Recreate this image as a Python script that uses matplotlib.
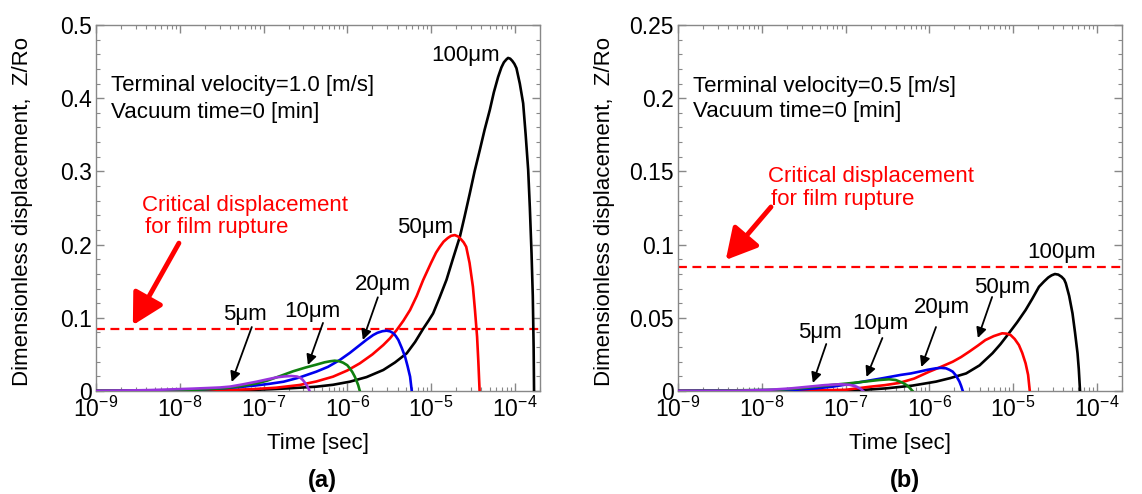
import numpy as np
import matplotlib
matplotlib.use("Agg")
import matplotlib.pyplot as plt
from matplotlib.ticker import MultipleLocator, FuncFormatter, LogLocator

plt.rcParams['font.family'] = ['Liberation Sans', 'DejaVu Sans']

# ---- data: log10(time [s]) and Z/Ro ----
# (a) terminal velocity 1.0 m/s
a100_logt = [-9, -8, -7.5, -7.16, -6.9, -6.67, -6.37, -6.17, -5.97, -5.77, -5.57, -5.43, -5.29,
             -5.19, -5.09, -5.03, -4.975, -4.9, -4.815, -4.74, -4.655, -4.6, -4.537, -4.48, -4.418,
             -4.36, -4.298, -4.25, -4.199, -4.16, -4.13, -4.1, -4.08, -4.055, -4.03, -4.005, -3.98,
             -3.94, -3.90, -3.87, -3.84, -3.82, -3.80, -3.785, -3.775, -3.77]
a100_z = [0, 0.0002, 0.0006, 0.0014, 0.0025, 0.0038, 0.0059, 0.0085, 0.0127, 0.019, 0.0287, 0.039,
          0.0515, 0.067, 0.0857, 0.096, 0.106, 0.127, 0.152, 0.18, 0.211, 0.238, 0.270, 0.30, 0.329,
          0.357, 0.384, 0.408, 0.429, 0.442, 0.449, 0.453, 0.455, 0.454, 0.451, 0.447, 0.441,
          0.42, 0.393, 0.35, 0.302, 0.25, 0.188, 0.13, 0.06, 0]
a50_logt = [-9, -8, -7.5, -7.16, -6.85, -6.57, -6.37, -6.17, -6.0, -5.85, -5.7, -5.57, -5.49,
            -5.41, -5.33, -5.25, -5.17, -5.094, -5.0, -4.94, -4.895, -4.85, -4.80, -4.76, -4.716,
            -4.675, -4.64, -4.61, -4.58, -4.54, -4.50, -4.475, -4.45, -4.435, -4.42]
a50_z = [0, 0.0004, 0.0012, 0.0023, 0.0045, 0.0082, 0.013, 0.0196, 0.028, 0.0378, 0.050, 0.0628,
         0.072, 0.0833, 0.096, 0.1107, 0.13, 0.1516, 0.175, 0.189, 0.197, 0.204, 0.209, 0.212, 0.213,
         0.211, 0.207, 0.203, 0.197, 0.175, 0.1425, 0.11, 0.074, 0.04, 0]
a20_logt = [-9, -8.5, -8, -7.75, -7.48, -7.28, -7.1, -6.93, -6.76, -6.57, -6.37, -6.23, -6.09,
            -5.97, -5.85, -5.77, -5.69, -5.64, -5.58, -5.53, -5.49, -5.45, -5.42, -5.39, -5.35,
            -5.31, -5.28, -5.25, -5.23]
a20_z = [0, 0.0003, 0.0008, 0.002, 0.0037, 0.0055, 0.0075, 0.0098, 0.0127, 0.0185, 0.0264, 0.033,
         0.0423, 0.052, 0.0628, 0.070, 0.0765, 0.0795, 0.0817, 0.0824, 0.0815, 0.079, 0.075, 0.0697,
         0.059, 0.0469, 0.034, 0.0196, 0]
a10_logt = [-9, -8.6, -8.3, -7.88, -7.68, -7.48, -7.28, -7.08, -6.96, -6.8, -6.645, -6.5, -6.37,
            -6.27, -6.2, -6.15, -6.1, -6.05, -6.0, -5.97, -5.94, -5.91, -5.89, -5.87, -5.85]
a10_z = [0, 0.0002, 0.0005, 0.0014, 0.0024, 0.0037, 0.0065, 0.0105, 0.014, 0.0205, 0.027, 0.032,
         0.036, 0.0392, 0.0407, 0.0414, 0.0408, 0.0387, 0.0352, 0.031, 0.026, 0.0196, 0.014, 0.0082, 0]
a5_logt = [-9, -8.67, -8.35, -8.08, -7.85, -7.68, -7.52, -7.40, -7.25, -7.08, -6.96, -6.84, -6.75,
           -6.67, -6.6, -6.56, -6.53, -6.5, -6.47, -6.45]
a5_z = [0, 0.0006, 0.0013, 0.0023, 0.0032, 0.004, 0.0048, 0.006, 0.009, 0.0128, 0.0158, 0.0187,
        0.0199, 0.0205, 0.0198, 0.018, 0.015, 0.0105, 0.005, 0]

# (b) terminal velocity 0.5 m/s
b100_logt = [-9, -7.5, -7, -6.75, -6.515, -6.2, -5.92, -5.75, -5.56, -5.4, -5.245, -5.15, -5.05,
             -4.95, -4.85, -4.77, -4.69, -4.63, -4.58, -4.54, -4.5, -4.46, -4.42, -4.39, -4.37,
             -4.33, -4.29, -4.26, -4.23, -4.215, -4.20]
b100_z = [0, 0.0001, 0.0003, 0.0009, 0.0018, 0.0037, 0.0064, 0.0088, 0.012, 0.0175, 0.0258, 0.032,
          0.0394, 0.047, 0.0553, 0.063, 0.0712, 0.0748, 0.0775, 0.079, 0.0799, 0.0795, 0.078, 0.0762,
          0.0736, 0.065, 0.053, 0.040, 0.0258, 0.015, 0]
b50_logt = [-9, -7.5, -7, -6.71, -6.53, -6.36, -6.18, -6.0, -5.86, -5.72, -5.62, -5.52, -5.42,
            -5.33, -5.23, -5.13, -5.08, -5.03, -4.98, -4.93, -4.89, -4.85, -4.82, -4.80]
b50_z = [0, 0.0003, 0.0008, 0.0029, 0.004, 0.0055, 0.0085, 0.0132, 0.0165, 0.020, 0.0232, 0.027,
         0.031, 0.0348, 0.0375, 0.0394, 0.0392, 0.0383, 0.0355, 0.0314, 0.026, 0.0189, 0.011, 0]
b20_logt = [-9, -7.6, -7.35, -7.15, -6.95, -6.75, -6.55, -6.34, -6.22, -6.12, -6.02, -5.92, -5.86,
            -5.8, -5.76, -5.72, -5.68, -5.64, -5.62, -5.60]
b20_z = [0, 0.0008, 0.0018, 0.003, 0.0048, 0.0068, 0.0088, 0.011, 0.012, 0.0132, 0.0145, 0.0155,
         0.0158, 0.0155, 0.0145, 0.0132, 0.0105, 0.0064, 0.0035, 0]
b10_logt = [-9, -7.8, -7.55, -7.35, -7.15, -6.95, -6.71, -6.6, -6.48, -6.4, -6.32, -6.27, -6.24, -6.20]
b10_z = [0, 0.0008, 0.0018, 0.003, 0.0042, 0.0053, 0.0068, 0.0075, 0.008, 0.0075, 0.0057, 0.004,
         0.0025, 0]
b5_logt = [-9, -8.3, -7.94, -7.65, -7.43, -7.25, -7.07, -6.95, -6.87, -6.82, -6.79]
b5_z = [0, 0.0002, 0.0007, 0.0018, 0.003, 0.004, 0.0046, 0.0042, 0.003, 0.0015, 0]

critical_z = 0.085
sizes = ["100μm", "50μm", "20μm", "10μm", "5μm"]
colors = ["black", "#ff0000", "#0000ee", "#108010", "#9933dd"]

panels = [
    dict(curves=[(a100_logt, a100_z), (a50_logt, a50_z), (a20_logt, a20_z), (a10_logt, a10_z), (a5_logt, a5_z)],
         ymax=0.5, major=0.1, minor=0.02, velocity="1.0", tag="(a)",
         pos=[0.08406, 0.2085, 0.38879, 0.74089],
         info_y=(0.4167, 0.381), crit_text=((-8.45, 0.254), (-8.42, 0.223)),
         crit_arrow=((-8.01, 0.202), (-8.56, 0.090)),
         labels=[(-4.585, 0.4577, None), (-5.074, 0.224, None),
                 (-5.575, 0.145, ((-5.635, 0.128), (-5.814, 0.0697))),
                 (-6.42, 0.109, ((-6.29, 0.093), (-6.47, 0.0355))),
                 (-7.22, 0.105, ((-7.14, 0.0874), (-7.38, 0.0123)))]),
    dict(curves=[(b100_logt, b100_z), (b50_logt, b50_z), (b20_logt, b20_z), (b10_logt, b10_z), (b5_logt, b5_z)],
         ymax=0.25, major=0.05, minor=0.01, velocity="0.5", tag="(b)",
         pos=[0.5937, 0.2085, 0.38879, 0.74089],
         info_y=(0.2083, 0.1906), crit_text=((-7.93, 0.1462), (-7.89, 0.131)),
         crit_arrow=((-7.89, 0.1257), (-8.43, 0.0895)),
         labels=[(-4.42, 0.0943, None),
                 (-5.13, 0.0704, ((-5.25, 0.0642), (-5.42, 0.0362))),
                 (-5.845, 0.0567, ((-5.92, 0.0437), (-6.095, 0.0164))),
                 (-6.58, 0.0464, ((-6.56, 0.0362), (-6.75, 0.0096))),
                 (-7.30, 0.0403, ((-7.23, 0.0321), (-7.39, 0.0055)))]),
]

fig = plt.figure(figsize=(11.42, 4.94), dpi=100)
FS = 16
gray = "#888888"

for p in panels:
    ax = fig.add_axes(p["pos"])
    for (lt, z), c in zip(p["curves"], colors):
        ax.plot(10.0 ** np.array(lt), z, color=c, lw=1.9, solid_joinstyle="round", zorder=3)
    ax.axhline(critical_z, color="#ff0000", lw=1.6, ls=(0, (4, 2.5)), zorder=2)

    ax.set_xscale("log")
    ax.set_xlim(1e-9, 2e-4)
    ax.set_ylim(0, p["ymax"])
    ax.xaxis.set_major_locator(LogLocator(base=10, numticks=10))
    ax.xaxis.set_minor_locator(LogLocator(base=10, subs=np.arange(2, 10), numticks=20))
    ax.yaxis.set_major_locator(MultipleLocator(p["major"]))
    ax.yaxis.set_minor_locator(MultipleLocator(p["minor"]))
    ax.yaxis.set_major_formatter(FuncFormatter(lambda v, _: "%g" % round(v, 3)))
    ax.tick_params(which="both", direction="in", top=True, right=True, color=gray, labelsize=16.5)
    ax.tick_params(which="major", length=6, width=1)
    ax.tick_params(which="minor", length=3, width=0.8)
    ax.tick_params(axis="y", pad=3)
    ax.tick_params(axis="x", pad=4)
    for s in ax.spines.values():
        s.set_color(gray)
        s.set_linewidth(1)

    ax.set_xlabel("Time [sec]", fontsize=FS, labelpad=8)
    ax.set_ylabel("Dimensionless displacement,  Z/Ro", fontsize=FS)
    ax.yaxis.set_label_coords(-63 / 444, 0.49)

    ax.text(10 ** -8.82, p["info_y"][0], "Terminal velocity=%s [m/s]" % p["velocity"],
            fontsize=FS, va="center", ha="left")
    ax.text(10 ** -8.82, p["info_y"][1], "Vacuum time=0 [min]", fontsize=FS, va="center", ha="left")

    (x1, y1), (x2, y2) = p["crit_text"]
    ax.text(10 ** x1, y1, "Critical displacement", color="#ff0000", fontsize=FS, va="center", ha="left")
    ax.text(10 ** x2, y2, "for film rupture", color="#ff0000", fontsize=FS, va="center", ha="left")
    (tx, ty), (hx, hy) = p["crit_arrow"]
    ax.annotate("", xy=(10 ** hx, hy), xytext=(10 ** tx, ty),
                arrowprops=dict(arrowstyle="-|>, head_length=0.55, head_width=0.3", color="#ff0000",
                                lw=3.5, mutation_scale=34, shrinkA=0, shrinkB=0))

    for name, (lx, ly, arr) in zip(sizes, p["labels"]):
        ax.text(10 ** lx, ly, name, fontsize=FS, ha="center", va="center", zorder=4)
        if arr is not None:
            (sx, sy), (ex, ey) = arr
            ax.annotate("", xy=(10 ** ex, ey), xytext=(10 ** sx, sy),
                        arrowprops=dict(arrowstyle="-|>", color="black", lw=1.3,
                                        mutation_scale=15, shrinkA=0, shrinkB=0), zorder=4)

    cx = p["pos"][0] + p["pos"][2] / 2
    fig.text(cx + 0.004, 0.028, p["tag"], fontsize=17, fontweight="bold", ha="center", va="center")

fig.savefig("out.png", dpi=100)
